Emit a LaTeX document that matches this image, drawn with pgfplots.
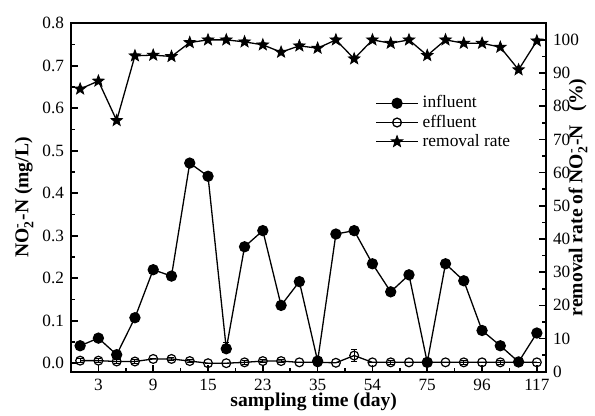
\documentclass[border=0pt]{standalone}
\usepackage{fontspec}
\setmainfont{Liberation Serif}
\usepackage{amsmath}
\usepackage{pgfplots}
\pgfplotsset{compat=1.18}
\usepackage{pgfplotstable}

\pgfdeclareplotmark{fstar}{%
  \pgfpathmoveto{\pgfpointpolar{90}{\pgfplotmarksize}}%
  \pgfpathlineto{\pgfpointpolar{126}{0.42\pgfplotmarksize}}%
  \pgfpathlineto{\pgfpointpolar{162}{\pgfplotmarksize}}%
  \pgfpathlineto{\pgfpointpolar{198}{0.42\pgfplotmarksize}}%
  \pgfpathlineto{\pgfpointpolar{234}{\pgfplotmarksize}}%
  \pgfpathlineto{\pgfpointpolar{270}{0.42\pgfplotmarksize}}%
  \pgfpathlineto{\pgfpointpolar{306}{\pgfplotmarksize}}%
  \pgfpathlineto{\pgfpointpolar{342}{0.42\pgfplotmarksize}}%
  \pgfpathlineto{\pgfpointpolar{18}{\pgfplotmarksize}}%
  \pgfpathlineto{\pgfpointpolar{54}{0.42\pgfplotmarksize}}%
  \pgfpathclose
  \pgfusepathqfillstroke
}

\pgfplotstableread{
x y e
0 0.041 0
1 0.059 0
2 0.020 0
3 0.107 0
4 0.220 0
5 0.205 0
6 0.471 0
7 0.440 0
8 0.034 0.015
9 0.274 0
10 0.312 0
11 0.136 0
12 0.192 0
13 0.005 0
14 0.304 0
15 0.312 0
16 0.234 0
17 0.168 0
18 0.208 0
19 0.002 0
20 0.234 0
21 0.194 0
22 0.077 0
23 0.041 0
24 0.003 0
25 0.071 0
}\influent

\pgfplotstableread{
x y e
0 0.006 0.004
1 0.006 0.004
2 0.004 0.004
3 0.004 0.004
4 0.010 0
5 0.010 0.004
6 0.005 0.004
7 0.000 0
8 0.000 0
9 0.002 0.004
10 0.005 0.004
11 0.005 0.004
12 0.002 0
13 0.002 0
14 0.001 0
15 0.018 0.015
16 0.002 0
17 0.002 0.004
18 0.002 0
19 0.002 0
20 0.002 0
21 0.002 0.004
22 0.002 0
23 0.002 0.004
24 0.002 0
25 0.002 0
}\effluent

\pgfplotstableread{
x y
0 85.2
1 87.6
2 75.7
3 95.2
4 95.4
5 95.0
6 99.2
7 100.0
8 100.0
9 99.4
10 98.5
11 96.3
12 98.2
13 97.5
14 100.0
15 94.3
16 100.0
17 99.0
18 100.0
19 95.3
20 100.0
21 99.0
22 99.0
23 97.8
24 91.0
25 99.7
}\removal

\pgfplotsset{
  common/.style={
    scale only axis, width=237.5pt, height=174.2pt,
    xmin=-0.5, xmax=25.5,
    tick align=inside,
    major tick length=3.5pt, minor tick length=2pt,
    axis line style={line width=0.9pt},
    every tick/.append style={line width=0.8pt, black},
    /pgf/number format/assume math mode=true,
    tick label style={font=\fontsize{8.6}{10}\selectfont},
    label style={font=\fontsize{9.8}{11}\selectfont\bfseries},
  }
}

\begin{document}
\begin{tikzpicture}
\begin{axis}[common,
  ymin=-0.02, ymax=0.8,
  xtick={1,4,7,10,13,16,19,22,25},
  xticklabels={3,9,15,23,35,54,75,96,117},
  minor xtick={2.5,5.5,8.5,11.5,14.5,17.5,20.5,23.5},
  ytick={0,0.1,0.2,0.3,0.4,0.5,0.6,0.7,0.8},
  minor ytick={0.05,0.15,0.25,0.35,0.45,0.55,0.65,0.75},
  yticklabel style={/pgf/number format/.cd, fixed, fixed zerofill, precision=1},
  xtick pos=bottom, ytick pos=left,
  xlabel={sampling time (day)},
  ylabel={NO$^{\text{-}}_{\text{2}}$-N (mg/L)},
  xlabel style={at={(axis description cs:0.511,-0.086)}, anchor=center},
  ylabel style={at={(axis description cs:-0.099,0.5)}, anchor=center},
]
\coordinate (bl) at (rel axis cs:0,0);
\coordinate (tr) at (rel axis cs:1,1);
\addplot[black, line width=0.65pt, mark=o, mark size=2.2pt, mark options={line width=0.6pt},
  error bars/.cd, y dir=both, y explicit,
  error bar style={line width=0.5pt, black},
  error mark options={rotate=90, mark size=1.5pt, line width=0.5pt, black}]
  table[x=x, y=y, y error=e] {\effluent};
\addplot[black, line width=0.65pt, mark=*, mark size=2.5pt, mark options={fill=black},
  error bars/.cd, y dir=plus, y explicit,
  error bar style={line width=0.5pt, black},
  error mark options={rotate=90, mark size=1.5pt, line width=0.5pt, black}]
  table[x=x, y=y, y error=e] {\influent};
\end{axis}
\begin{axis}[common,
  ymin=0, ymax=105,
  hide x axis,
  axis y line*=right,
  ytick={0,10,20,30,40,50,60,70,80,90,100},
  minor ytick={5,15,25,35,45,55,65,75,85,95},
  ylabel={removal rate of NO$^{\text{-}}_{\text{2}}$-N\hspace{0.7em}(\%)},
  ylabel style={at={(axis description cs:1.0674,0.5)}, anchor=center},
  legend style={draw=none, fill=none, at={(0.64,0.805)}, anchor=north west,
    font=\fontsize{8.7}{10}\selectfont, row sep=-2pt, inner sep=0pt},
  legend cell align=left,
  legend image code/.code={\draw[mark repeat=2, mark phase=2, #1] plot coordinates {(0pt,0pt) (10.5pt,0pt) (21pt,0pt)};},
]
\addlegendimage{black, line width=0.65pt, mark=*, mark size=2.5pt, mark options={fill=black}}
\addlegendentry{influent}
\addlegendimage{black, line width=0.65pt, mark=o, mark size=2.2pt}
\addlegendentry{effluent}
\addplot[black, line width=0.65pt, mark=fstar, mark size=3pt, mark options={fill=black, line width=0.4pt}]
  table[x=x, y=y] {\removal};
\addlegendentry{removal rate}
\end{axis}
\pgfresetboundingbox
\path ([shift={(-35.5pt,-22.15pt)}]bl) rectangle ([shift={(24.5pt,11.65pt)}]tr);
\end{tikzpicture}
\end{document}
